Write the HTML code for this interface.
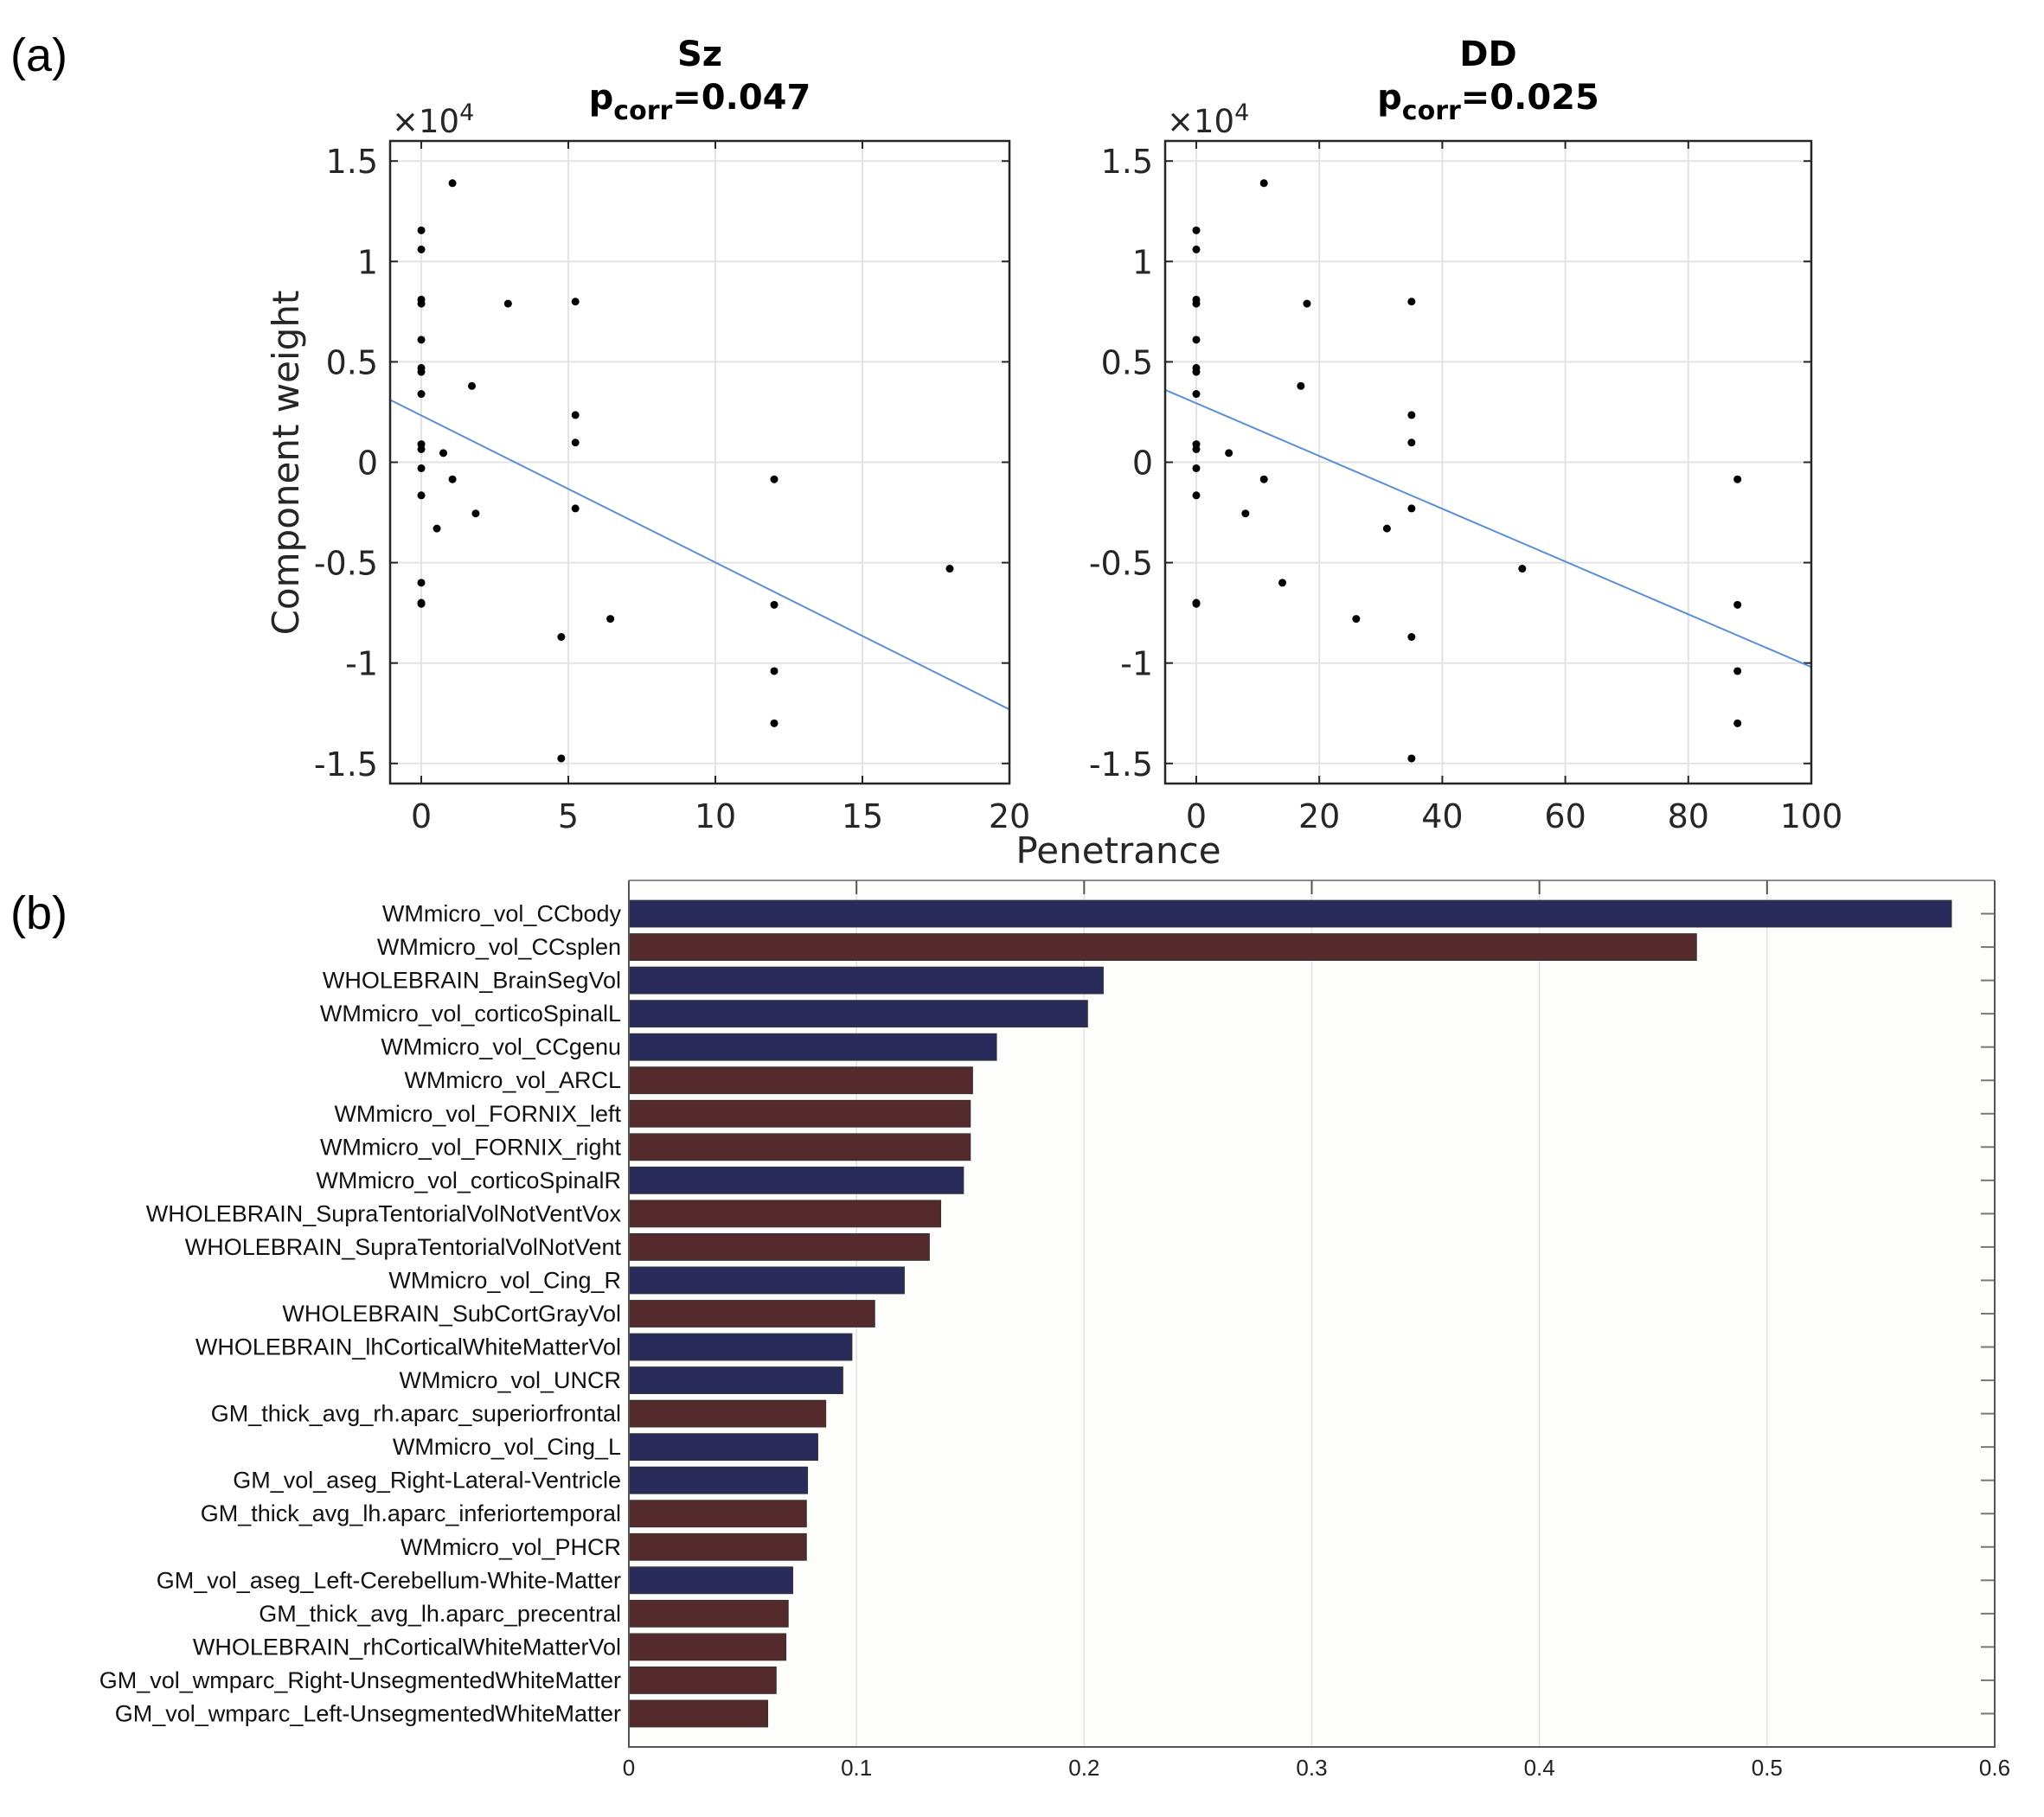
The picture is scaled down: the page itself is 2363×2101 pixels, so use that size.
<!DOCTYPE html>
<html><head><meta charset="utf-8"><style>
html,body{margin:0;padding:0;background:#fff;}
svg{display:block;}
</style></head><body>
<svg id="fig" width="2363" height="2101" viewBox="0 0 2363 2101" xmlns="http://www.w3.org/2000/svg">
<text x="12" y="82" font-family="Liberation Sans, sans-serif" font-size="54" fill="#000">(a)</text>
<text x="12" y="1074" font-family="Liberation Sans, sans-serif" font-size="54" fill="#000">(b)</text>
<text transform="translate(345,535) rotate(-90)" text-anchor="middle" font-family="DejaVu Sans, sans-serif" font-size="42" fill="#262626">Component weight</text>
<text x="1293" y="998" text-anchor="middle" font-family="DejaVu Sans, sans-serif" font-size="42" fill="#262626">Penetrance</text>
<g id="scatters"></g>
<g id="bars"></g>
</svg>
<script>
// ---- Scatter data ----
const szX = [1.06,0,0,0,0,0,0,0,0,0,0,0,0,0,0,0,2.95,1.72,0.75,1.06,0.53,1.85,5.24,5.24,5.24,5.24,4.76,4.76,6.43,12,12,12,12,17.97];
const szY = [1.39,1.155,1.06,0.81,0.79,0.61,0.47,0.45,0.34,0.09,0.065,-0.03,-0.165,-0.6,-0.70,-0.705,0.79,0.38,0.046,-0.085,-0.33,-0.255,0.80,0.235,0.098,-0.23,-0.87,-1.475,-0.78,-0.085,-0.71,-1.04,-1.30,-0.53];
const ddX = [11,0,0,0,0,0,0,0,0,0,0,0,0,0,0,18,17,5.3,11,8,14,31,35,35,35,35,35,35,26,53,88,88,88,88];
const ddY = [1.39,1.155,1.06,0.81,0.79,0.61,0.47,0.45,0.34,0.09,0.065,-0.03,-0.165,-0.70,-0.705,0.79,0.38,0.046,-0.085,-0.255,-0.6,-0.33,0.80,0.235,0.098,-0.23,-0.87,-1.475,-0.78,-0.53,-0.085,-0.71,-1.04,-1.30];
const szFit = [-0.0732, 0.233];   // slope, intercept
const ddFit = [-0.01314, 0.294];
const szXTicks = [0,5,10,15,20];
const ddXTicks = [0,20,40,60,80,100];
const yTicks = [-1.5,-1,-0.5,0,0.5,1,1.5];
const yTickLabels = ["-1.5","-1","-0.5","0","0.5","1","1.5"];

// ---- Bar data ----
const barLabels = ["WMmicro_vol_CCbody","WMmicro_vol_CCsplen","WHOLEBRAIN_BrainSegVol","WMmicro_vol_corticoSpinalL","WMmicro_vol_CCgenu","WMmicro_vol_ARCL","WMmicro_vol_FORNIX_left","WMmicro_vol_FORNIX_right","WMmicro_vol_corticoSpinalR","WHOLEBRAIN_SupraTentorialVolNotVentVox","WHOLEBRAIN_SupraTentorialVolNotVent","WMmicro_vol_Cing_R","WHOLEBRAIN_SubCortGrayVol","WHOLEBRAIN_lhCorticalWhiteMatterVol","WMmicro_vol_UNCR","GM_thick_avg_rh.aparc_superiorfrontal","WMmicro_vol_Cing_L","GM_vol_aseg_Right-Lateral-Ventricle","GM_thick_avg_lh.aparc_inferiortemporal","WMmicro_vol_PHCR","GM_vol_aseg_Left-Cerebellum-White-Matter","GM_thick_avg_lh.aparc_precentral","WHOLEBRAIN_rhCorticalWhiteMatterVol","GM_vol_wmparc_Right-UnsegmentedWhiteMatter","GM_vol_wmparc_Left-UnsegmentedWhiteMatter"];
const barValues = [0.581,0.469,0.2084,0.2015,0.1615,0.151,0.150,0.150,0.147,0.137,0.132,0.121,0.108,0.098,0.094,0.0865,0.083,0.0785,0.078,0.078,0.072,0.070,0.069,0.0647,0.061];
const barGroup = ["n","m","n","n","n","m","m","m","n","m","m","n","m","n","n","m","n","n","m","m","n","m","m","m","m"];
const barXTicks = [0,0.1,0.2,0.3,0.4,0.5,0.6];

const NS = "http://www.w3.org/2000/svg";
function mk(tag, attrs, parent){const e=document.createElementNS(NS,tag);for(const k in attrs)e.setAttribute(k,attrs[k]);parent.appendChild(e);return e;}

function scatter(parentG, name, title, pval, L, R, xmin, xmax, xs, ys, fit, xt){
  const T=163,B=906,ymin=-1.6,ymax=1.6;
  const sx=v=>L+(v-xmin)/(xmax-xmin)*(R-L);
  const sy=v=>B-(v-ymin)/(ymax-ymin)*(B-T);
  const g=mk("g",{},parentG);
  
  
  mk("rect",{x:L,y:T,width:R-L,height:B-T,fill:"#fff"},g);
  xt.forEach(t=>{
    const gl=mk("line",{x1:sx(t),x2:sx(t),y1:T,y2:B,stroke:"#e3e3e3","stroke-width":2},g);
    
    
    mk("line",{x1:sx(t),x2:sx(t),y1:B,y2:B-9,stroke:"#262626","stroke-width":2},g);
    mk("line",{x1:sx(t),x2:sx(t),y1:T,y2:T+9,stroke:"#262626","stroke-width":2},g);
    const tl=mk("text",{x:sx(t),y:957,"text-anchor":"middle","font-family":"DejaVu Sans, sans-serif","font-size":38,fill:"#262626"},g);
    tl.textContent=t;
    
    
  });
  yTicks.forEach((t,i)=>{
    const gl=mk("line",{x1:L,x2:R,y1:sy(t),y2:sy(t),stroke:"#e3e3e3","stroke-width":2},g);
    
    
    mk("line",{x1:L,x2:L+9,y1:sy(t),y2:sy(t),stroke:"#262626","stroke-width":2},g);
    mk("line",{x1:R,x2:R-9,y1:sy(t),y2:sy(t),stroke:"#262626","stroke-width":2},g);
    const tl=mk("text",{x:L-14,y:sy(t)+14,"text-anchor":"end","font-family":"DejaVu Sans, sans-serif","font-size":38,fill:"#262626"},g);
    tl.textContent=yTickLabels[i];
    
    
  });
  const fl=mk("line",{x1:sx(xmin),y1:sy(fit[0]*xmin+fit[1]),x2:sx(xmax),y2:sy(fit[0]*xmax+fit[1]),stroke:"#5b8fd6","stroke-width":2},g);
  
  
  xs.forEach((x,i)=>{
    const c=mk("circle",{cx:sx(x),cy:sy(ys[i]),r:4.5,fill:"#000"},g);
    
    
  });
  mk("rect",{x:L,y:T,width:R-L,height:B-T,fill:"none",stroke:"#262626","stroke-width":2.5},g);
  const ex=mk("text",{x:L+2,y:153,"font-family":"DejaVu Sans, sans-serif","font-size":37,fill:"#262626"},g);
  ex.innerHTML='×10<tspan dy="-14" font-size="27">4</tspan>';
  
  
  const cx=(L+R)/2;
  const t1=mk("text",{x:cx,y:76,"text-anchor":"middle","font-family":"DejaVu Sans, sans-serif","font-size":40,"font-weight":"bold",fill:"#000"},g);
  t1.textContent=title;
  
  
  const t2=mk("text",{x:cx,y:126,"text-anchor":"middle","font-family":"DejaVu Sans, sans-serif","font-size":40,"font-weight":"bold",fill:"#000"},g);
  t2.innerHTML='p<tspan dy="12" font-size="30">corr</tspan><tspan dy="-12">='+pval+'</tspan>';
  
  
}
const sg=document.getElementById("scatters");
scatter(sg,"sz","Sz","0.047",451,1167,-1.06,20,szX,szY,szFit,szXTicks);
scatter(sg,"dd","DD","0.025",1347,2094,-5.06,100,ddX,ddY,ddFit,ddXTicks);

// ---- Bar chart ----
(function(){
  const g=document.getElementById("bars");
  const L=727,R=2306,T=1018,B=2020,xmax=0.6;
  const n=barLabels.length, step=(B-T)/(n+1);
  const sx=v=>L+v/xmax*(R-L);
  mk("rect",{x:L,y:T,width:R-L,height:B-T,fill:"#fdfdfb"},g);
  barXTicks.forEach(t=>{
    const gl=mk("line",{x1:sx(t),x2:sx(t),y1:T,y2:B,stroke:"#e4e4e4","stroke-width":1.5},g);
    
    
    mk("line",{x1:sx(t),x2:sx(t),y1:T,y2:T+16,stroke:"#555","stroke-width":2},g);
    const tl=mk("text",{x:sx(t),y:2053,"text-anchor":"middle","font-family":"Liberation Sans, sans-serif","font-size":26,fill:"#222"},g);
    tl.textContent=t;
    
    
  });
  barLabels.forEach((lab,i)=>{
    const cy=T+step*(i+1);
    mk("line",{x1:R,x2:R-16,y1:cy,y2:cy,stroke:"#777","stroke-width":2},g);
    const tl=mk("text",{x:L-9,y:cy+9,"text-anchor":"end","font-family":"Liberation Sans, sans-serif","font-size":27,fill:"#111"},g);
    tl.textContent=lab;
    
    
    const bh=step*0.8;
    const r=mk("rect",{x:L,y:cy-bh/2,width:sx(barValues[i])-L,height:bh,fill:barGroup[i]==="n"?"#292b5a":"#552a2d",stroke:"#333","stroke-width":1},g);
    
    
  });
  mk("polyline",{points:`${L},${T} ${L},${B} ${R},${B} ${R},${T}`,fill:"none",stroke:"#555","stroke-width":2},g);
  mk("line",{x1:L,x2:R,y1:T,y2:T,stroke:"#666","stroke-width":1.5},g);
})();
</script>
</body></html>
